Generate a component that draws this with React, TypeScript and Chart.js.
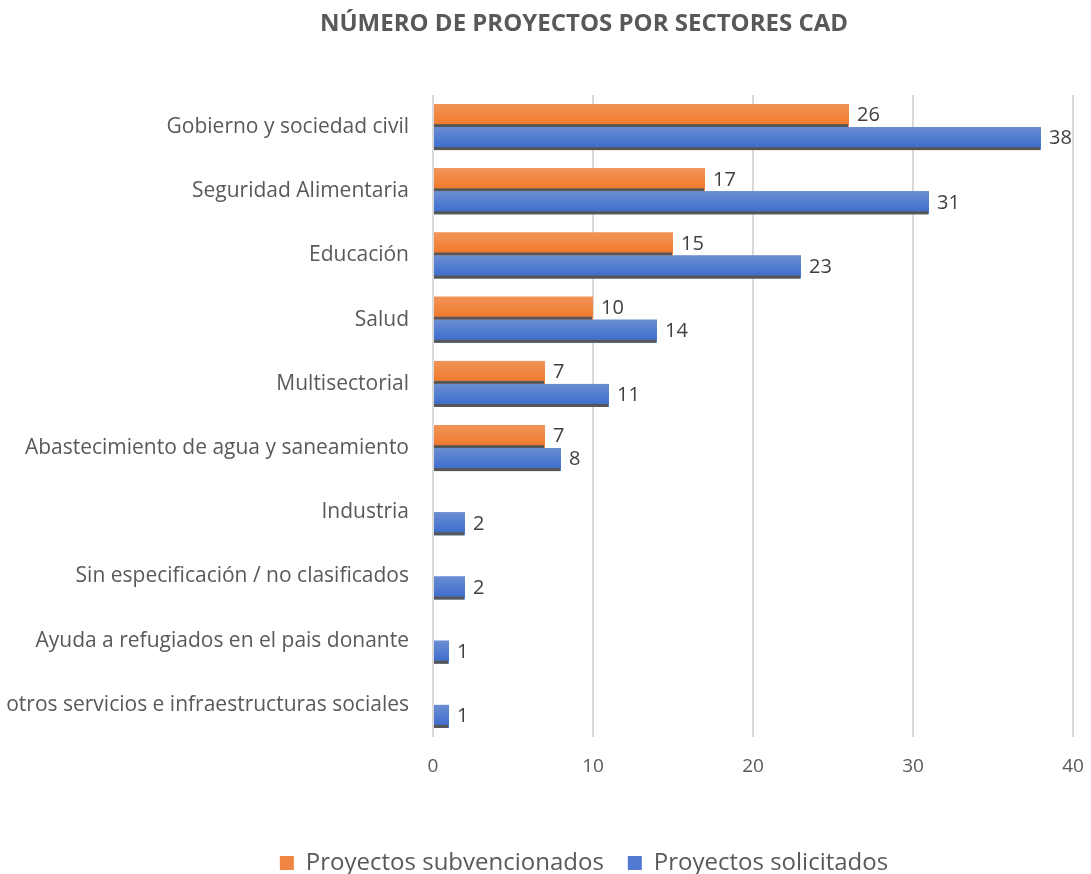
import React, { useEffect, useRef } from "react";
import { Chart, registerables } from "chart.js";

Chart.register(...registerables);

const TITLE = "NÚMERO DE PROYECTOS POR SECTORES CAD";
const categories = [
  "Gobierno y sociedad civil",
  "Seguridad Alimentaria",
  "Educación",
  "Salud",
  "Multisectorial",
  "Abastecimiento de agua y saneamiento",
  "Industria",
  "Sin especificación / no clasificados",
  "Ayuda a refugiados en el pais donante",
  "otros servicios e infraestructuras sociales",
];
const subvencionados = [26, 17, 15, 10, 7, 7, null, null, null, null];
const solicitados = [38, 31, 23, 14, 11, 8, 2, 2, 1, 1];
const seriesNames = ["Proyectos subvencionados", "Proyectos solicitados"];
const xTicks = [0, 10, 20, 30, 40];

const FONT = "'Open Sans', sans-serif";
const GRADS = [
  ["#F29458", "#F07A2E"],
  ["#6B8DD2", "#3E6FCD"],
];

const barStylePlugin = {
  id: "barStyle",
  afterDatasetsDraw(chart: any) {
    const ctx = chart.ctx;
    ctx.save();
    chart.data.datasets.forEach((ds: any, di: number) => {
      const meta = chart.getDatasetMeta(di);
      meta.data.forEach((bar: any, i: number) => {
        const v = ds.data[i];
        if (v == null) return;
        const { x, y, base, height } = bar.getProps(["x", "y", "base", "height"], true);
        const top = y - height / 2;
        const bottom = y + height / 2;
        const sh = 3;
        const g = ctx.createLinearGradient(0, top, 0, bottom - sh);
        g.addColorStop(0, GRADS[di][0]);
        g.addColorStop(1, GRADS[di][1]);
        ctx.fillStyle = g;
        ctx.fillRect(base, top, x - base, height - sh);
        ctx.fillStyle = "#565656";
        ctx.fillRect(base, bottom - sh, x - base - 1, sh);
        ctx.fillStyle = "#404040";
        ctx.font = `20px ${FONT}`;
        ctx.textAlign = "left";
        ctx.textBaseline = "middle";
        ctx.fillText(String(v), x + 8, y);
      });
    });
    ctx.restore();
  },
};

export default function App() {
  const ref = useRef<HTMLCanvasElement>(null);
  useEffect(() => {
    if (!ref.current) return;
    const chart = new Chart(ref.current, {
      type: "bar",
      data: {
        labels: categories,
        datasets: [
          {
            label: seriesNames[0],
            data: subvencionados,
            backgroundColor: "#F08543",
            borderWidth: 0,
            categoryPercentage: 0.7165,
            barPercentage: 1,
          },
          {
            label: seriesNames[1],
            data: solicitados,
            backgroundColor: "#5279D0",
            borderWidth: 0,
            categoryPercentage: 0.7165,
            barPercentage: 1,
          },
        ],
      },
      options: {
        indexAxis: "y",
        animation: false,
        responsive: false,
        maintainAspectRatio: false,
        layout: { padding: { left: 95, right: 18, top: 0, bottom: -11 } },
        plugins: {
          title: {
            display: true,
            text: TITLE,
            color: "#595959",
            font: { family: FONT, size: 24, weight: "bold" },
            padding: { top: 9.6, bottom: 56.6 },
          },
          legend: {
            position: "bottom",
            labels: {
              color: "#595959",
              font: { family: FONT, size: 24 },
              boxWidth: 14,
              boxHeight: 14,
              padding: 24,
            },
          },
          tooltip: { enabled: false },
        },
        scales: {
          x: {
            min: 0,
            max: 40,
            afterBuildTicks: (scale: any) => {
              scale.ticks = xTicks.map((v) => ({ value: v }));
            },
            afterFit: (scale: any) => {
              scale.height = 90;
            },
            grid: { color: "#D9D9D9", lineWidth: 2, drawTicks: false },
            border: { display: false },
            ticks: {
              color: "#595959",
              font: { family: FONT, size: 19, lineHeight: 2.842 },
              padding: 3,
              maxRotation: 0,
            },
          },
          y: {
            afterFit: (scale: any) => {
              scale.width = 338;
              scale._computeLabelArea = () => undefined;
            },
            grid: { display: false, drawTicks: false },
            border: { display: false },
            ticks: {
              color: "#595959",
              font: { family: FONT, size: 21 },
              padding: 24,
              autoSkip: false,
            },
          },
        },
      },
      plugins: [barStylePlugin],
    });
    return () => chart.destroy();
  }, []);
  return (
    <div style={{ position: "fixed", left: 0, top: 0, width: 1091, height: 874, background: "#fff" }}>
      <canvas ref={ref} width={1091} height={874} style={{ display: "block" }} />
    </div>
  );
}
